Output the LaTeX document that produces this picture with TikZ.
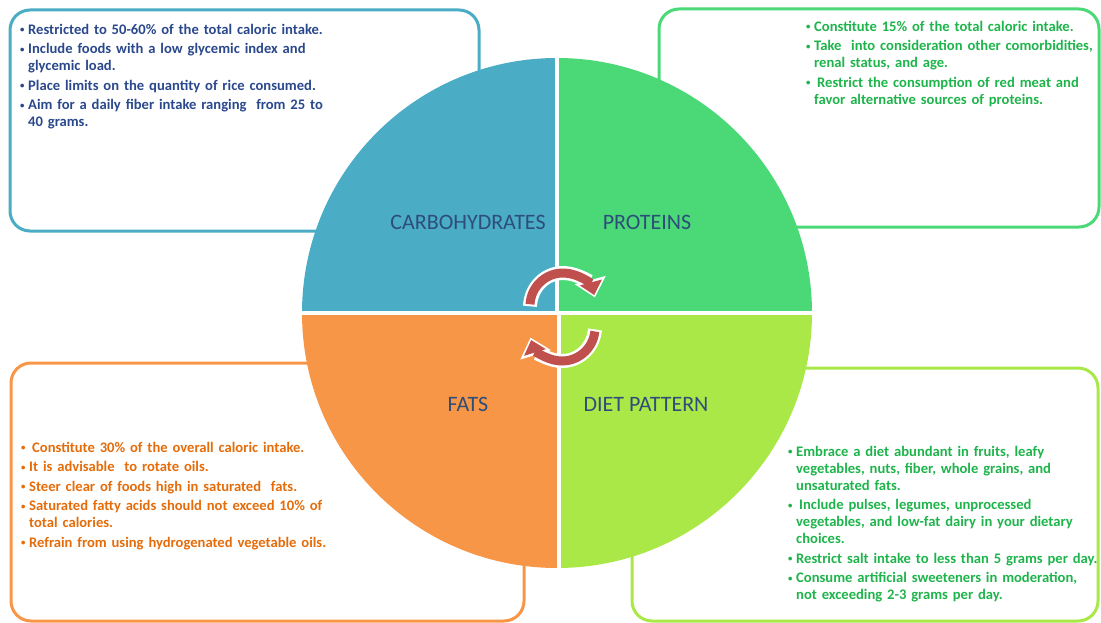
\documentclass[tikz,border=0pt]{standalone}
\usepackage{fontspec}
\usepackage{graphicx}
\setmainfont{Carlito}
\usetikzlibrary{arrows.meta}
\definecolor{cblue}{RGB}{75,172,198}
\definecolor{cgreen}{RGB}{74,217,118}
\definecolor{corange}{RGB}{247,150,70}
\definecolor{clime}{RGB}{170,232,72}
\definecolor{tblue}{RGB}{42,72,140}
\definecolor{tgreen}{RGB}{30,180,75}
\definecolor{torange}{RGB}{228,108,10}
\definecolor{tlabel}{RGB}{45,78,122}
\definecolor{ared}{RGB}{192,80,77}
\newcommand{\bitem}[1]{\par\hangindent=8pt\hangafter=1\noindent\strut\makebox[8pt][l]{\raisebox{0.1em}{\scalebox{0.6}{\textbullet}}}#1\par\vspace{2.5pt}}
\begin{document}
\begin{tikzpicture}[x=1pt,y=-1pt,
  boxline/.style={line width=3pt, rounded corners=20pt},
  bullets/.style={anchor=north west, inner sep=0pt, text width=400pt, align=left,
    font=\bfseries\fontsize{14.6}{17}\selectfont},
  lab/.style={inner sep=0pt, text=tlabel, font=\fontsize{22}{24}\selectfont},
  arrowback/.style={white, line width=14pt, -{Triangle[width=31pt,length=18pt]}, shorten <=-2pt},
  arrowfront/.style={ared, line width=9pt, -{Triangle[width=22pt,length=13pt]}, shorten >=2.5pt}]
\useasboundingbox (0,0) rectangle (1101,623);
% outline boxes
\draw[boxline, cblue] (10,10) rectangle (479,231);
\draw[boxline, cgreen] (659,9) rectangle (1099,227);
\draw[boxline, corange] (11,363) rectangle (524,621);
\draw[boxline, clime] (632,368) rectangle (1098,621);
% circle quadrants
\coordinate (c) at (557,313);
\fill[cblue] (c) -- ++(-255,0) arc[start angle=180, end angle=270, radius=255] -- cycle;
\fill[cgreen] (c) -- ++(0,-255) arc[start angle=270, end angle=360, radius=255] -- cycle;
\fill[clime] (c) -- ++(255,0) arc[start angle=0, end angle=90, radius=255] -- cycle;
\fill[corange] (c) -- ++(0,255) arc[start angle=90, end angle=180, radius=255] -- cycle;
\draw[white, line width=4pt] (557,50) -- (557,313);
\draw[white, line width=4pt] (559,313) -- (559,576);
\draw[white, line width=4pt] (296,313) -- (818,313);
% cycle arrows
\draw[arrowback] (563,306) ++(183:33) arc[start angle=183, end angle=345, radius=33];
\draw[arrowfront] (563,306) ++(183:33) arc[start angle=183, end angle=345, radius=33];
\draw[arrowback] (562,328) ++(6:33) arc[start angle=6, end angle=163, radius=33];
\draw[arrowfront] (562,328) ++(6:33) arc[start angle=6, end angle=163, radius=33];
% labels
\node[lab] (carb) at (468,222) {CARBOHYDRATES};
\node[lab] (prot) at (647,222) {PROTEINS};
\node[lab] (fats) at (468,404) {FATS};
\node[lab] (diet) at (646,404) {DIET PATTERN};
% texts
\node[bullets, text=tblue] (carbtext) at (20,17) {%
\bitem{Restricted to 50-60\% of the total caloric intake.}
\bitem{Include foods with a low glycemic index and\newline glycemic load.}
\bitem{Place limits on the quantity of rice consumed.}
\bitem{Aim for a daily fiber intake ranging\ \ from 25 to\newline 40 grams.}};
\node[bullets, text=tgreen] (prottext) at (806,14) {%
\bitem{Constitute 15\% of the total caloric intake.}
\bitem{Take\ \ into consideration other comorbidities,\newline renal status, and age.}
\bitem{\hspace{3pt}Restrict the consumption of red meat and\newline favor alternative sources of proteins.}};
\node[bullets, text=torange] (fatstext) at (21,435) {%
\bitem{\hspace{3pt}Constitute 30\% of the overall caloric intake.}
\bitem{It is advisable\ \ to rotate oils.}
\bitem{Steer clear of foods high in saturated\ \ fats.}
\bitem{Saturated fatty acids should not exceed 10\% of\newline total calories.}
\bitem{Refrain from using hydrogenated vegetable oils.}};
\node[bullets, text=tgreen] (diettext) at (788,439) {%
\bitem{Embrace a diet abundant in fruits, leafy\newline vegetables, nuts, fiber, whole grains, and\newline unsaturated fats.}
\bitem{\hspace{3pt}Include pulses, legumes, unprocessed\newline vegetables, and low-fat dairy in your dietary\newline choices.}
\bitem{Restrict salt intake to less than 5 grams per day.}
\bitem{Consume artificial sweeteners in moderation,\newline not exceeding 2-3 grams per day.}};
\end{tikzpicture}
\end{document}
